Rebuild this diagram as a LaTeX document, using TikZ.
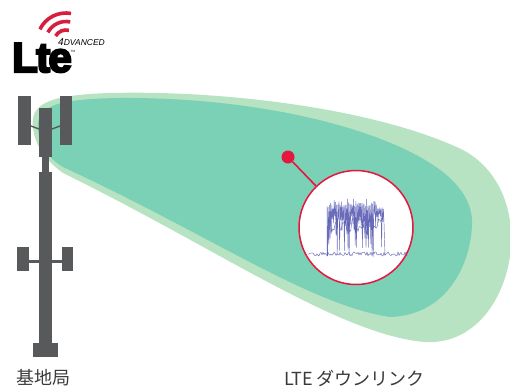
\documentclass[tikz,border=0pt]{standalone}
\usepackage{fontspec}
\setmainfont{Liberation Sans}
\newfontfamily\jpfont{Noto Sans CJK JP}
\newfontfamily\logofont[FakeBold=5,LetterSpace=-4]{Liberation Sans Bold}
\newfontfamily\tmfont{Liberation Sans}
\definecolor{beamouter}{HTML}{B8E3C3}
\definecolor{beaminner}{HTML}{7AD1B5}
\definecolor{towergray}{HTML}{58595B}
\definecolor{markred}{HTML}{E5173F}
\definecolor{logored}{HTML}{D81E3C}
\definecolor{specblue}{HTML}{4F53AE}
\definecolor{labelgray}{HTML}{3A3A3A}
\begin{document}
\begin{tikzpicture}[x=1pt,y=-1pt,
  towerpart/.style={fill=towergray},
  spec/.style={draw=specblue,line width=0.45pt,opacity=0.85,line join=round},
  caption/.style={anchor=west,inner sep=0pt,text=labelgray,font=\jpfont\fontsize{18}{20}\selectfont},
  wave/.style={draw=logored,line width=3.6pt}]
\useasboundingbox (0,0) rectangle (510,388);

% outer coverage lobe
\fill[beamouter] (33,128) .. controls (30,105) and (45,95) .. (110,93)
  .. controls (230,90) and (380,110) .. (463,150)
  .. controls (500,170) and (513,210) .. (511,245)
  .. controls (509,290) and (480,345) .. (425,342)
  .. controls (340,335) and (220,250) .. (63,173)
  .. controls (45,160) and (35,145) .. (33,128) -- cycle;

% inner coverage lobe
\fill[beaminner] (38,130) .. controls (36,108) and (50,99) .. (120,98)
  .. controls (250,97) and (370,125) .. (430,163)
  .. controls (462,183) and (473,205) .. (472,225)
  .. controls (471,260) and (450,315) .. (390,317)
  .. controls (310,305) and (210,235) .. (63,167)
  .. controls (48,158) and (39,145) .. (38,130) -- cycle;

% base station tower
\fill[towerpart] (18,96) rectangle (31,145);
\fill[towerpart] (60,96) rectangle (72,145);
\fill[towerpart] (39,108) rectangle (52,157);
\fill[towerpart] (42,157) rectangle (49,172);
\fill[towerpart] (39,172) rectangle (52,343);
\fill[towerpart] (33,343) rectangle (58,357);
\draw[towergray,line width=1.4pt] (31,126) -- (39,129);
\draw[towergray,line width=1.4pt] (52,129) -- (60,126);
\fill[towerpart] (17,247) rectangle (29,271);
\fill[towerpart] (62,247) rectangle (73,271);
\fill[towerpart] (29,260) rectangle (62,263);

% LTE Advanced logo
\draw[wave] (66,42) ++(206:29) arc[start angle=206, end angle=280, radius=29];
\draw[wave] (66,42) ++(208:20.5) arc[start angle=208, end angle=282, radius=20.5];
\draw[wave] (66,42) ++(210:12) arc[start angle=210, end angle=284, radius=12];
\node[anchor=base west,inner sep=0pt,font=\logofont\fontsize{42}{42}\selectfont] (lte) at (12,72)
  {\raisebox{0pt}[23pt][0pt]{Lte\hspace{-1pt}\raisebox{20pt}{\tmfont\fontsize{3}{3}\selectfont TM}}};
\node[anchor=base west,inner sep=0pt,font=\fontsize{8.5}{9}\selectfont\itshape] (adv) at (58,45)
  {\raisebox{0pt}[7pt][0pt]{{\fontsize{10}{10}\selectfont 4}DVANCED}};

% measurement point and spectrum view
\node[circle,fill=markred,inner sep=0pt,minimum size=13pt] (pt) at (288,157) {};
\node[circle,draw=markred,line width=1.5pt,fill=white,inner sep=0pt,minimum size=114pt] (lens) at (356,227.5) {};
\draw[markred,line width=1.6pt] (pt) -- (lens);

\pgfmathsetseed{11}
\draw[spec] (308,254) \foreach \i in {1,...,99} { -- ({308+\i},{254+2.2*rand}) };
\draw[spec] (327,256) \foreach \i in {0,...,47} {
  -- ({327+1.2*\i},{199+10*rnd}) -- ({327.6+1.2*\i},{214+44*rnd}) } -- (385,256);
\draw[spec] (328,228) \foreach \i in {0,...,46} { -- ({328+1.2*\i},{226+8*rand}) };

% captions
\node[caption] (bs) at (16,378) {基地局};
\node[caption] (dl) at (284,378) {LTE ダウンリンク};
\end{tikzpicture}
\end{document}
